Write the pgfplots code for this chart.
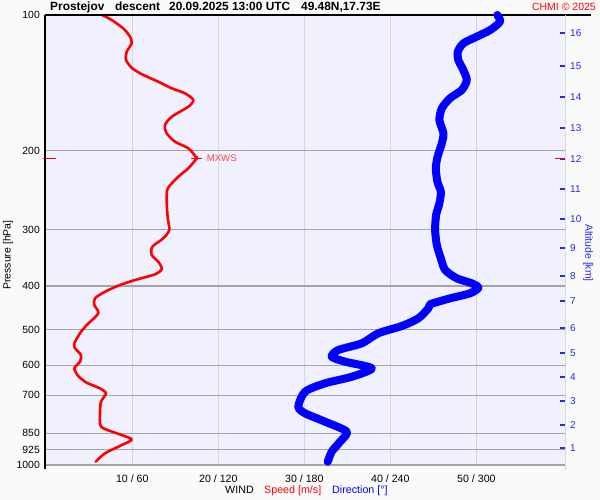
\documentclass[border=0pt]{standalone}
\usepackage{fontspec}
\setmainfont{Liberation Sans}
\usepackage{pgfplots}
\pgfplotsset{compat=1.18}
\definecolor{bgout}{RGB}{250,250,250}
\definecolor{bgplot}{RGB}{240,240,255}
\definecolor{gridh}{RGB}{165,165,165}
\definecolor{gridv}{RGB}{215,215,215}
\definecolor{myred}{RGB}{255,0,0}
\definecolor{myblue}{RGB}{0,0,255}
\definecolor{altblue}{RGB}{40,40,235}
\definecolor{mxws}{RGB}{255,70,70}

\pgfplotstableread{
s p
6.51 100
7.60 102.6
8.95 107.1
9.73 111.7
9.93 115.6
9.35 120.7
9.27 125.9
10.00 131.4
11.28 135.9
13.02 140.7
14.58 145.5
16.13 149.3
17.09 154.5
16.51 159.9
14.58 168.3
13.80 175.6
14.00 183.2
14.97 191.3
16.51 197.8
17.37 206.5
17.49 208.2
16.51 219.1
15.35 228.7
14.12 242.8
14.00 260.0
14.12 283.0
14.30 300.4
13.60 313.5
12.33 327.3
12.26 341.5
13.02 353.4
13.42 366.8
12.64 376.9
10.31 388.1
8.57 398.1
6.83 412.0
5.66 426.2
5.58 440.9
6.05 460.1
4.70 488.5
3.92 509.6
3.26 536.6
3.34 550.5
4.03 569.6
3.92 589.4
3.26 609.7
3.72 634.2
4.70 656.4
6.24 675.5
6.94 693.0
6.36 723.3
6.24 767.5
6.36 822.0
7.99 847.6
9.93 876.8
8.77 902.8
6.83 941.9
5.74 983.3
}\speedtab

\pgfplotstableread{
d p
314.6 100
316.5 103.5
309.6 108.0
300.3 111.7
290.9 115.6
287.0 120.7
287.4 125.9
290.9 132.6
293.3 139.5
289.8 146.8
281.6 153.1
275.9 161.2
274.2 171.1
277.0 183.2
275.9 192.8
272.9 206.5
271.7 219.1
272.8 234.7
275.2 247.0
274.2 262.1
271.9 278.3
271.2 300.4
272.4 324.5
275.2 347.3
278.2 368.7
286.3 384.7
296.8 394.7
301.4 403.7
295.6 415.3
281.6 426.2
273.5 433.6
267.7 439.4
266.5 448.5
259.5 472.1
248.0 491.0
231.6 509.6
220.0 536.6
203.7 555.2
199.1 574.5
208.4 589.4
227.0 609.7
213.1 636.6
194.4 658.4
180.5 687.3
175.8 742.0
180.5 767.5
194.4 801.1
209.6 843.3
204.9 887.6
199.1 934.1
196.3 983.3
}\dirtab

\begin{document}
\begin{tikzpicture}[x=1pt,y=1pt]
\fill[bgout] (-45,-35) rectangle (555,465);
\useasboundingbox (-45,-35) rectangle (555,465);

\begin{axis}[
  at={(0,0)}, anchor=south west, scale only axis, width=520pt, height=450pt,
  xmin=-0.15, xmax=60.3, ymode=log, ymin=100, ymax=1000, y dir=reverse,
  axis background/.style={fill=bgplot},
  axis line style={draw=none},
  major tick length=0pt,
  xtick={10,20,30,40,50},
  xticklabels={10 / 60, 20 / 120, 30 / 180, 40 / 240, 50 / 300},
  ytick={100,200,300,400,500,600,700,850,925,1000},
  yticklabels={100,200,300,400,500,600,700,850,925,1000},
  xmajorgrids, ymajorgrids,
  x grid style={gridv, line width=1pt},
  y grid style={gridh, line width=1.2pt},
  xticklabel style={font=\fontsize{10.6}{12}\selectfont, anchor=base, inner sep=0pt, yshift=-17pt},
  yticklabel style={font=\fontsize{10.4}{12}\selectfont, anchor=east, inner sep=0pt, xshift=-5pt},
  /pgf/number format/assume math mode=true,
  clip=false,
]
\addplot[myred, line width=2.6pt, line join=round, line cap=round, smooth, tension=0.45] table[x=s, y=p] {\speedtab};
\draw[myred, line width=1.2pt] ([xshift=-2pt]axis cs:-0.15,208.2) -- ([xshift=11pt]axis cs:-0.15,208.2);
\draw[myred, line width=1.2pt] (axis cs:16.85,208.2) -- (axis cs:18.13,208.2)
   node[anchor=west, inner sep=0pt, xshift=4pt, text=mxws, font=\fontsize{9.6}{10}\selectfont] {MXWS};
\end{axis}

\draw[black, line width=1.5pt] (0,450) -- (546,450);
\draw[black, line width=1.5pt] (0,450) -- (0,-4);
\draw[gridv, line width=1pt] (520,450) -- (520,-5);

\begin{axis}[
  at={(0,0)}, anchor=south west, scale only axis, width=520pt, height=450pt,
  xmin=-0.9, xmax=361.8, ymode=log, ymin=100, ymax=1000, y dir=reverse,
  hide x axis, axis line style={draw=none},
  ytick={916.8,815,720.7,637.6,563.8,496.2,432.1,380.2,329.5,284.1,243.6,208.9,178.3,152.1,129.8,109.6},
  yticklabels={1,2,3,4,5,6,7,8,9,10,11,12,13,14,15,16},
  ytick pos=right, yticklabel pos=right, tick align=inside, major tick length=5pt,
  ytick style={altblue, line width=1.2pt},
  yticklabel style={text=altblue, font=\fontsize{10}{10}\selectfont, anchor=west, inner sep=0pt, xshift=5pt},
  /pgf/number format/assume math mode=true,
  clip=false,
]
\addplot[myblue, line width=8pt, line cap=round, line join=round, smooth, tension=0.45] table[x=d, y=p] {\dirtab};
\draw[myred, line width=1.2pt] ([xshift=-10pt]axis cs:361.8,208.2) -- (axis cs:361.8,208.2);
\end{axis}

\node[anchor=base west, inner sep=0pt, font=\bfseries\fontsize{11.9}{12}\selectfont] at (5,454) {Prostejov};
\node[anchor=base west, inner sep=0pt, font=\bfseries\fontsize{11.9}{12}\selectfont] at (70,454) {descent};
\node[anchor=base west, inner sep=0pt, font=\bfseries\fontsize{11.9}{12}\selectfont] at (124,454) {20.09.2025 13:00 UTC};
\node[anchor=base west, inner sep=0pt, font=\bfseries\fontsize{11.9}{12}\selectfont] at (256,454) {49.48N,17.73E};
\node[anchor=base east, inner sep=0pt, text=myred, font=\fontsize{10.5}{12}\selectfont] at (551,454) {CHMI © 2025};

\node[anchor=base west, inner sep=0pt, font=\fontsize{10.7}{12}\selectfont] at (180,-29) {WIND};
\node[anchor=base west, inner sep=0pt, text=myred, font=\fontsize{10.7}{12}\selectfont] at (219,-29) {Speed [m/s]};
\node[anchor=base west, inner sep=0pt, text=myblue, font=\fontsize{10.7}{12}\selectfont] at (287,-29) {Direction [°]};

\node[rotate=90, inner sep=0pt, font=\fontsize{10.5}{12}\selectfont] at (-37,210) {Pressure [hPa]};
\node[rotate=-90, inner sep=0pt, text=altblue, font=\fontsize{10.5}{12}\selectfont] at (543,212) {Altitude [km]};
\end{tikzpicture}
\end{document}
